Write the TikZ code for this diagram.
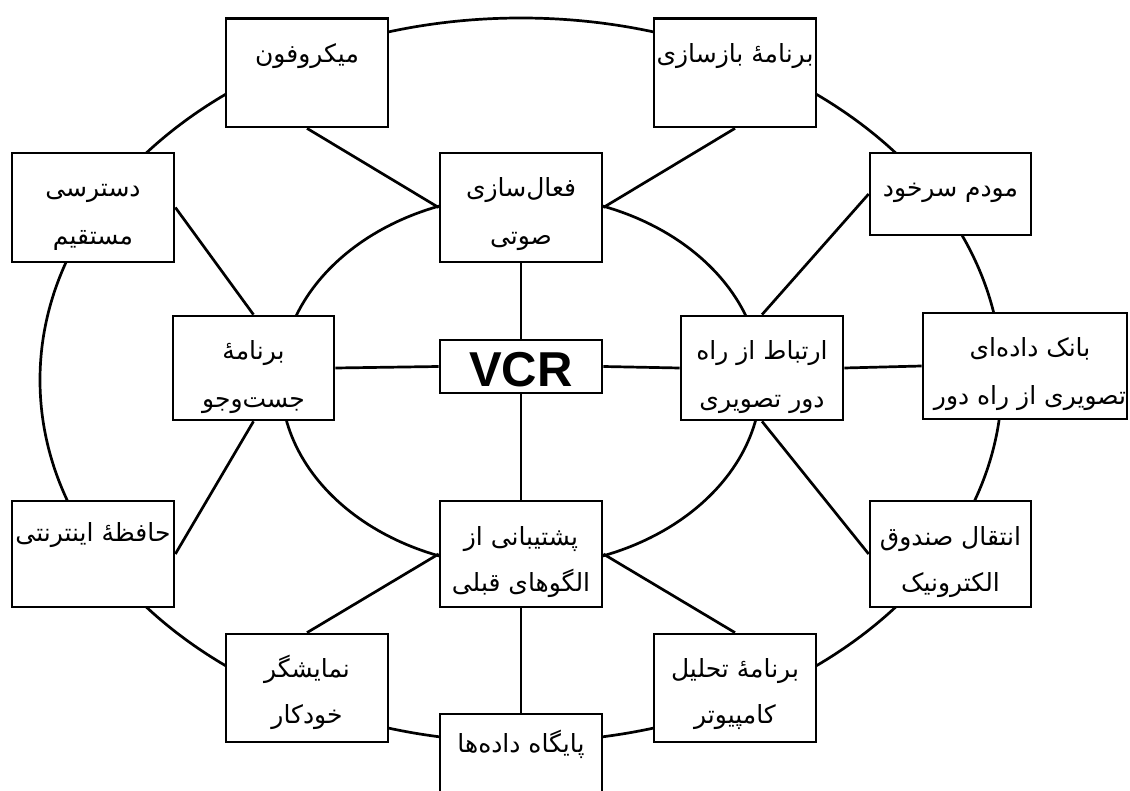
\documentclass[tikz,border=0pt]{standalone}
\usepackage{fontspec}
\newfontfamily\fa[Script=Arabic]{DejaVu Sans}
\newfontfamily\vcrfont{Liberation Sans}
\TeXXeTstate=1
\begin{document}
\begin{tikzpicture}[x=1pt,y=-1pt,
  boxnode/.style={draw, line width=2.7pt, fill=white, inner sep=0pt, minimum width=162pt, minimum height=108pt},
  link/.style={line width=2.7pt},
  ring/.style={line width=2.7pt},
  lbl/.style={font=\fa\fontsize{25}{29}\selectfont, inner sep=0pt, anchor=base}]
\clip (0,0) rectangle (1130,791);
\fill[white] (0,0) rectangle (1130,791);
% ellipses
\draw[ring] (521,380) ellipse [x radius=481, y radius=362];
\draw[ring] (521,381) ellipse [x radius=240, y radius=186];
% boxes
\node[boxnode, minimum height=108.5pt] (mic) at (307,72.75) {};
\node[boxnode, minimum height=108.5pt] (baz) at (735,72.75) {};
\node[boxnode, minimum height=109pt] (dast) at (93,207.5) {};
\node[boxnode, minimum height=109pt] (faal) at (521,207.5) {};
\node[boxnode, minimum width=161pt, minimum height=82pt] (modem) at (950.5,194) {};
\node[boxnode, minimum width=161pt, minimum height=104pt] (jost) at (253.5,368) {};
\node[boxnode, minimum height=53pt] (vcr) at (521,366.5) {};
\node[boxnode, minimum height=104pt] (ert) at (762,368) {};
\node[boxnode, minimum width=204pt, minimum height=106pt] (bank) at (1025,366) {};
\node[boxnode, minimum height=106pt] (hafeze) at (93,554) {};
\node[boxnode, minimum height=106pt] (posht) at (521,554) {};
\node[boxnode, minimum width=161pt, minimum height=106pt] (enteqal) at (950.5,554) {};
\node[boxnode] (namayesh) at (307,688) {};
\node[boxnode] (tahlil) at (735,688) {};
\node[boxnode] (paygah) at (521,768) {};
% connectors
\draw[link] (mic.south) -- (faal.west);
\draw[link] (baz.south) -- (faal.east);
\draw[link] (dast.east) -- (jost.north);
\draw[link] (modem.west) -- (ert.north);
\draw[link] (jost.south) -- (hafeze.east);
\draw[link] (ert.south) -- (enteqal.west);
\draw[link] (posht.west) -- (namayesh.north);
\draw[link] (posht.east) -- (tahlil.north);
\draw[link] (faal.south) -- (vcr.north);
\draw[link] (vcr.south) -- (posht.north);
\draw[link] (posht.south) -- (paygah.north);
\draw[link] (jost.east) -- (vcr.west);
\draw[link] (vcr.east) -- (ert.west);
\draw[link] (ert.east) -- (bank.west);
% labels
\node[lbl] at ([yshift=-45pt]mic.north) {\beginR میکروفون\endR};
\node[lbl] at ([yshift=-45pt]baz.north) {\beginR برنامهٔ بازسازی\endR};
\node[lbl] at ([yshift=-45pt]dast.north) {\beginR دسترسی\endR};
\node[lbl] at ([yshift=-93pt]dast.north) {\beginR مستقیم\endR};
\node[lbl] at ([yshift=-45pt]faal.north) {\beginR فعال^^^^200cسازی\endR};
\node[lbl] at ([yshift=-93pt]faal.north) {\beginR صوتی\endR};
\node[lbl] at ([yshift=-45pt]modem.north) {\beginR مودم سرخود\endR};
\node[lbl] at ([yshift=-45pt]jost.north) {\beginR برنامهٔ\endR};
\node[lbl] at ([yshift=-93pt]jost.north) {\beginR جست^^^^200cوجو\endR};
\node[font=\vcrfont\bfseries\fontsize{49}{52}\selectfont, inner sep=0pt, anchor=base] at (521,386.7) {VCR};
\node[lbl] at ([yshift=-45pt]ert.north) {\beginR ارتباط از راه\endR};
\node[lbl] at ([yshift=-93pt]ert.north) {\beginR دور تصویری\endR};
\node[lbl] at ([xshift=5pt,yshift=-45pt]bank.north) {\beginR بانک داده^^^^200cای\endR};
\node[lbl] at ([xshift=5pt,yshift=-93pt]bank.north) {\beginR تصویری از راه دور\endR};
\node[lbl] at ([yshift=-42pt]hafeze.north) {\beginR حافظهٔ اینترنتی\endR};
\node[lbl] at ([yshift=-46pt]posht.north) {\beginR پشتیبانی از\endR};
\node[lbl] at ([yshift=-92pt]posht.north) {\beginR الگوهای قبلی\endR};
\node[lbl] at ([yshift=-46pt]enteqal.north) {\beginR انتقال صندوق\endR};
\node[lbl] at ([yshift=-92pt]enteqal.north) {\beginR الکترونیک\endR};
\node[lbl] at ([yshift=-45pt]namayesh.north) {\beginR نمایشگر\endR};
\node[lbl] at ([yshift=-91pt]namayesh.north) {\beginR خودکار\endR};
\node[lbl] at ([yshift=-45pt]tahlil.north) {\beginR برنامهٔ تحلیل\endR};
\node[lbl] at ([yshift=-91pt]tahlil.north) {\beginR کامپیوتر\endR};
\node[lbl] at ([yshift=-40pt]paygah.north) {\beginR پایگاه داده^^^^200cها\endR};
\end{tikzpicture}
\end{document}
